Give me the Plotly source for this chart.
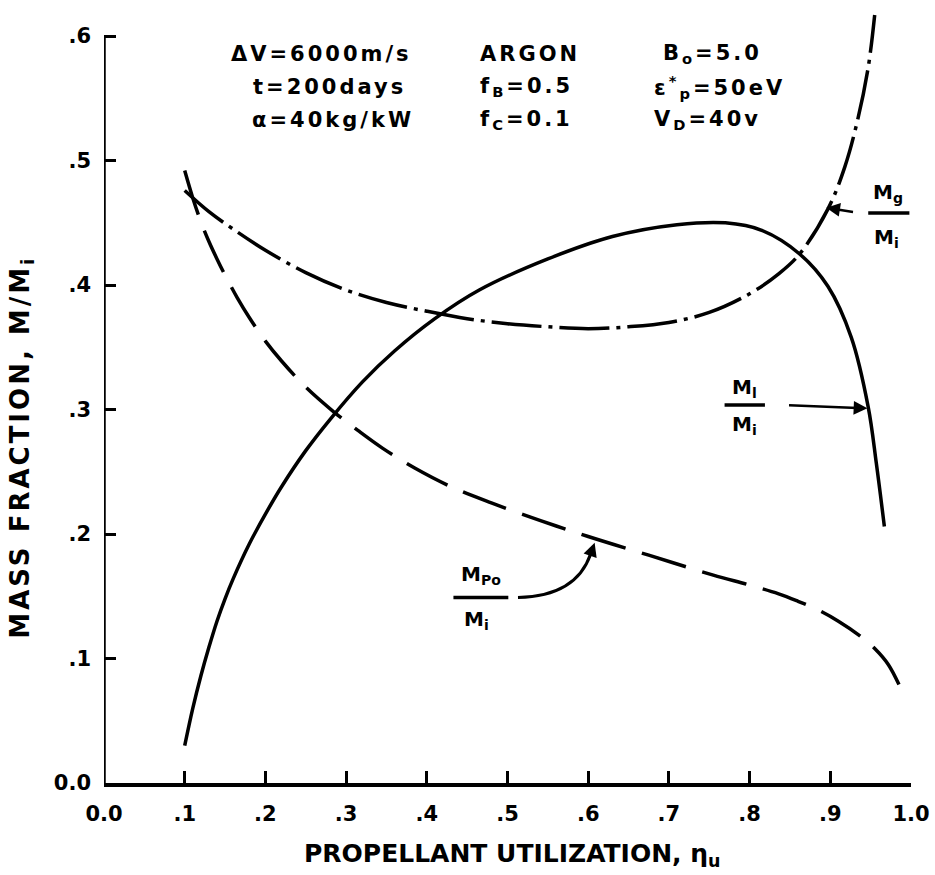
import plotly.graph_objects as go

# ---- data ----
eta_l = [0.100, 0.110, 0.120, 0.130, 0.140, 0.150, 0.160, 0.180, 0.200, 0.220, 0.250,
         0.280, 0.320, 0.360, 0.410, 0.465, 0.550, 0.630, 0.710, 0.770, 0.815, 0.862,
         0.897, 0.926, 0.947, 0.957, 0.967]
frac_l = [0.030, 0.060, 0.086, 0.109, 0.130, 0.148, 0.164, 0.192, 0.216, 0.238, 0.267,
          0.292, 0.322, 0.347, 0.373, 0.396, 0.421, 0.439, 0.4485, 0.450, 0.444, 0.425,
          0.399, 0.358, 0.302, 0.257, 0.206]

eta_g = [0.100, 0.130, 0.160, 0.200, 0.250, 0.300, 0.350, 0.400, 0.450, 0.500, 0.550,
         0.600, 0.650, 0.700, 0.750, 0.800, 0.836, 0.862, 0.897, 0.918, 0.934, 0.947, 0.955]
frac_g = [0.476, 0.459, 0.445, 0.428, 0.410, 0.396, 0.386, 0.379, 0.373, 0.369, 0.3665,
          0.365, 0.3665, 0.370, 0.378, 0.393, 0.409, 0.425, 0.461, 0.495, 0.533, 0.575, 0.617]

eta_po = [0.100, 0.110, 0.120, 0.130, 0.140, 0.150, 0.165, 0.180, 0.200, 0.220, 0.250,
          0.285, 0.315, 0.345, 0.385, 0.430, 0.480, 0.540, 0.600, 0.675, 0.755, 0.800,
          0.836, 0.860, 0.885, 0.910, 0.935, 0.955, 0.972, 0.988]
frac_po = [0.492, 0.470, 0.451, 0.435, 0.421, 0.408, 0.390, 0.374, 0.355, 0.339, 0.318,
           0.298, 0.283, 0.269, 0.253, 0.238, 0.225, 0.211, 0.198, 0.183, 0.167, 0.159,
           0.152, 0.146, 0.139, 0.130, 0.119, 0.108, 0.095, 0.075]

x_ticks = [0.0, 0.1, 0.2, 0.3, 0.4, 0.5, 0.6, 0.7, 0.8, 0.9, 1.0]
x_ticktext = ["<b>0.0</b>", "<b>.1</b>", "<b>.2</b>", "<b>.3</b>", "<b>.4</b>", "<b>.5</b>",
              "<b>.6</b>", "<b>.7</b>", "<b>.8</b>", "<b>.9</b>", "<b>1.0</b>"]
y_ticks = [0.0, 0.1, 0.2, 0.3, 0.4, 0.5, 0.6]
y_ticktext = ["<b>0.0</b>", "<b>.1</b>", "<b>.2</b>", "<b>.3</b>", "<b>.4</b>", "<b>.5</b>",
              "<b>.6</b>"]

FONT = "DejaVu Sans"
LW = 3.5

fig = go.Figure()
fig.add_trace(go.Scatter(x=eta_l, y=frac_l, mode="lines",
                         line=dict(color="black", width=LW, shape="spline", smoothing=1.0),
                         showlegend=False, hoverinfo="skip"))
fig.add_trace(go.Scatter(x=eta_g, y=frac_g, mode="lines",
                         line=dict(color="black", width=LW, dash="50px,7px,4px,7px",
                                   shape="spline", smoothing=1.0),
                         showlegend=False, hoverinfo="skip"))
fig.add_trace(go.Scatter(x=eta_po, y=frac_po, mode="lines",
                         line=dict(color="black", width=LW, dash="46px,17px",
                                   shape="spline", smoothing=1.0),
                         showlegend=False, hoverinfo="skip"))


def ls(txt, sp):
    return '<b><span style="letter-spacing:%spx">%s</span></b>' % (sp, txt)


annos = []
TF = dict(family=FONT, size=21, color="black")
# parameter block
for txt, x, y, anc in [
    ("ΔV=6000m/s", 0.270, 0.5855, "center"),
    ("t=200days", 0.280, 0.559, "center"),
    ("α=40kg/kW", 0.284, 0.533, "center"),
    ("ARGON", 0.464, 0.5855, "left"),
    ("f<sub>B</sub>=0.5", 0.464, 0.559, "left"),
    ("f<sub>C</sub>=0.1", 0.464, 0.533, "left"),
    ("B<sub>o</sub>=5.0", 0.690, 0.5855, "left"),
    ("ε<sup>*</sup><sub>p</sub>=50eV", 0.679, 0.559, "left"),
    ("V<sub>D</sub>=40v", 0.679, 0.533, "left"),
]:
    annos.append(dict(x=x, y=y, xref="x", yref="y", text=ls(txt, 3), showarrow=False,
                      xanchor=anc, yanchor="middle", font=TF))

LF = dict(family=FONT, size=20, color="black")
shapes = []
# fraction labels: (numerator, x_num, y_num, x_den, y_den, bar_x0, bar_x1, bar_y)
for num, xn, yn, xd, yd, b0, b1, by in [
    ("M<sub>g</sub>", 0.972, 0.474, 0.970, 0.438, 0.947, 0.998, 0.458),
    ("M<sub>l</sub>", 0.794, 0.317, 0.794, 0.2875, 0.769, 0.819, 0.3036),
    ("M<sub>Po</sub>", 0.467, 0.167, 0.461, 0.131, 0.433, 0.501, 0.149),
]:
    annos.append(dict(x=xn, y=yn, xref="x", yref="y", text="<b>" + num + "</b>",
                      showarrow=False, xanchor="center", yanchor="middle", font=LF))
    annos.append(dict(x=xd, y=yd, xref="x", yref="y", text="<b>M<sub>i</sub></b>",
                      showarrow=False, xanchor="center", yanchor="middle", font=LF))
    shapes.append(dict(type="line", xref="x", yref="y", x0=b0, x1=b1, y0=by, y1=by,
                       line=dict(color="black", width=3.5)))

# arrows
for hx, hy, tx, ty in [(0.895, 0.4622, 0.930, 0.4586), (0.946, 0.301, 0.847, 0.3036),
                       (0.608, 0.193, 0.601, 0.180)]:
    annos.append(dict(x=hx, y=hy, ax=tx, ay=ty, xref="x", yref="y", axref="x", ayref="y",
                      text="", showarrow=True, arrowhead=2, arrowsize=1.1, arrowwidth=2.5,
                      arrowcolor="black", standoff=0, startstandoff=0))
shapes.append(dict(type="path", xref="x", yref="y",
                   path="M 0.513,0.149 Q 0.585,0.150 0.603,0.184",
                   line=dict(color="black", width=3)))

# y axis spine up to .6
shapes.append(dict(type="line", xref="x", yref="y", x0=0, x1=0, y0=0, y1=0.6,
                   line=dict(color="black", width=3.5)))

# axis titles
annos.append(dict(x=(515 - 104) / 811, y=-0.093, xref="paper", yref="paper",
                  text="<b>PROPELLANT UTILIZATION, η<sub>u</sub></b>", showarrow=False,
                  xanchor="center", yanchor="middle",
                  font=dict(family=FONT, size=25, color="black")))
annos.append(dict(x=-0.102, y=(783 - 447) / 778, xref="paper", yref="paper",
                  text=ls("MASS FRACTION, M/M<sub>i</sub>", 3), showarrow=False, textangle=-90,
                  xanchor="center", yanchor="middle",
                  font=dict(family=FONT, size=26, color="black")))

fig.update_layout(
    width=935, height=875,
    margin=dict(l=104, r=20, t=5, b=92),
    paper_bgcolor="white", plot_bgcolor="white",
    annotations=annos, shapes=shapes,
    xaxis=dict(range=[0, 1.0], tickvals=x_ticks, ticktext=x_ticktext, ticks="inside",
               ticklen=12, tickwidth=3, tickcolor="black", showline=True, linewidth=3.5,
               linecolor="black", showgrid=False, zeroline=False, ticklabelstandoff=9,
               tickfont=dict(family=FONT, size=21, color="black")),
    yaxis=dict(range=[0, 0.625], tickvals=y_ticks, ticktext=y_ticktext, ticks="inside",
               ticklen=12, tickwidth=3, tickcolor="black", showline=False,
               showgrid=False, zeroline=False, ticklabelstandoff=12,
               tickfont=dict(family=FONT, size=21, color="black")),
)

fig.write_html("out.html")
